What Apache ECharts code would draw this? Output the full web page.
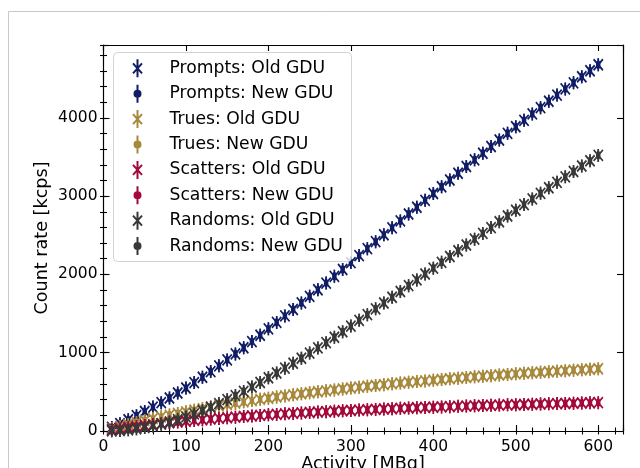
<!DOCTYPE html>
<html><head><meta charset="utf-8">
<script src="https://cdn.jsdelivr.net/npm/echarts@6/dist/echarts.min.js"></script>
<style>html,body{margin:0;padding:0;background:#fff}#c{width:640px;height:468px}</style>
</head><body><div id="c"></div>
<script>
const activity = [10,20,30,40,50,60,70,80,90,100,110,120,130,140,150,160,170,180,190,200,
  210,220,230,240,250,260,270,280,290,300,310,320,330,340,350,360,370,380,390,400,
  410,420,430,440,450,460,470,480,490,500,510,520,530,540,550,560,570,580,590,600];
const promptsOld = [46,94,144,196,249,305,362,422,485,550,618,687,759,832,908,985,1063,1142,1223,1305,
  1387,1470,1552,1636,1720,1804,1889,1975,2063,2151,2240,2329,2418,2506,2595,2683,2771,2858,2946,3033,
  3120,3206,3292,3378,3463,3548,3633,3717,3802,3886,3968,4050,4130,4211,4290,4369,4447,4524,4601,4677];
const promptsNew = [...promptsOld];
const truesOld = [29,57,83,109,134,158,181,203,224,245,265,284,303,321,339,356,372,388,404,419,
  434,448,462,475,488,501,513,525,537,549,560,571,581,592,602,612,622,631,640,649,
  658,667,675,684,692,700,707,715,722,730,737,744,751,757,764,770,777,783,789,795];
const truesNew = [...truesOld];
const scattersOld = [16,30,44,57,70,82,94,105,115,125,135,144,153,161,169,177,185,192,199,206,
  212,219,225,231,236,242,247,253,258,262,267,272,276,281,285,289,293,297,301,304,
  308,311,315,318,321,325,328,331,334,336,339,342,345,347,350,352,355,357,360,362];
const scattersNew = [...scattersOld];
const randomsOld = [2,7,16,29,45,65,88,115,146,180,218,259,303,350,400,452,506,562,620,680,
  741,803,866,930,995,1061,1128,1197,1268,1340,1413,1486,1560,1634,1708,1782,1856,1930,2005,2080,
  2154,2228,2302,2376,2450,2524,2598,2672,2746,2820,2892,2964,3035,3106,3176,3246,3315,3384,3452,3520];
const randomsNew = [...randomsOld];
const xTicks = [0,100,200,300,400,500,600];
const yTicks = [0,1000,2000,3000,4000];

const FONT = 'DejaVu Sans';
const C = {prompts:'#101d66', trues:'#a8893c', scatters:'#a3093a', randoms:'#383838'};
const oldSym = 'path://M0,1L11,12M11,1L0,12M5.5,0L5.5,13';
const newSym = 'path://M3.25,0L3.25,13M3.25,3.25A3.25,3.25 0 1 1 3.25,9.75A3.25,3.25 0 1 1 3.25,3.25Z';
const oldLeg = 'path://M0,4L9,14M9,4L0,14M4.5,0L4.5,18';
const newLeg = 'path://M3,0L3,18M3,6A3,3 0 1 1 3,12A3,3 0 1 1 3,6Z';

const defs = [
  ['Prompts: Old GDU', promptsOld, C.prompts, true],
  ['Prompts: New GDU', promptsNew, C.prompts, false],
  ['Trues: Old GDU', truesOld, C.trues, true],
  ['Trues: New GDU', truesNew, C.trues, false],
  ['Scatters: Old GDU', scattersOld, C.scatters, true],
  ['Scatters: New GDU', scattersNew, C.scatters, false],
  ['Randoms: Old GDU', randomsOld, C.randoms, true],
  ['Randoms: New GDU', randomsNew, C.randoms, false]
];
const series = defs.map(([name, vals, color, isOld], k) => ({
  type: 'scatter', name, xAxisIndex: 0, yAxisIndex: 0,
  data: activity.map((a, i) => [a, vals[i]]),
  symbol: isOld ? oldSym : newSym,
  symbolSize: isOld ? [11, 13] : [6.5, 13],
  symbolKeepAspect: true,
  itemStyle: {color: isOld ? 'rgba(0,0,0,0)' : color, borderColor: color, borderWidth: 1.8, opacity: 1},
  emphasis: {disabled: true}, silent: true, z: 2 + k * 0.01
}));

const axLine = {show: true, onZero: false, lineStyle: {color: '#000', width: 1.2}};
const tickStyle = {color: '#000', width: 1.1};
function xAx(pos, major, labels) {
  return {type: 'value', min: 0, max: 630, interval: major ? 100 : 20, position: pos,
    axisLine: major ? axLine : {show: false},
    axisTick: {show: true, inside: true, length: major ? 6 : 3.5, lineStyle: tickStyle},
    axisLabel: labels ? {show: true, margin: 8, fontSize: 15.5, color: '#000', fontFamily: FONT,
      formatter: v => xTicks.includes(v) ? String(v) : ''} : {show: false},
    splitLine: {show: false}};
}
function yAx(pos, major, labels) {
  return {type: 'value', min: 0, max: 4930, interval: major ? 1000 : 200, position: pos,
    axisLine: major ? axLine : {show: false},
    axisTick: {show: true, inside: true, length: major ? 6 : 3.5, lineStyle: tickStyle},
    axisLabel: labels ? {show: true, margin: 6, fontSize: 15.5, color: '#000', fontFamily: FONT,
      formatter: v => yTicks.includes(v) ? String(v) : ''} : {show: false},
    splitLine: {show: false}};
}

const chart = echarts.init(document.getElementById('c'), null, {renderer: 'canvas'});
chart.setOption({
  animation: false,
  backgroundColor: '#fff',
  grid: {left: 103.5, top: 45, right: 17, bottom: 37, containLabel: false},
  xAxis: [xAx('bottom', true, true), xAx('bottom', false, false), xAx('top', true, false), xAx('top', false, false)],
  yAxis: [yAx('left', true, true), yAx('left', false, false), yAx('right', true, false), yAx('right', false, false)],
  legend: {
    orient: 'vertical', left: 132, top: 58.3, padding: 0, itemGap: 5.4,
    itemWidth: 54, itemHeight: 18, selectedMode: false, z: 10,
    textStyle: {fontSize: 17.2, color: '#000', fontFamily: FONT},
    data: defs.map(d => ({name: d[0], icon: d[3] ? oldLeg : newLeg}))
  },
  graphic: [
    {type: 'line', shape: {x1: 8.5, y1: 11.5, x2: 640, y2: 11.5}, style: {stroke: '#c8c8c8', lineWidth: 1}, silent: true},
    {type: 'line', shape: {x1: 8.5, y1: 11.5, x2: 8.5, y2: 468}, style: {stroke: '#c8c8c8', lineWidth: 1}, silent: true},
    {type: 'rect', shape: {x: 113.5, y: 52.5, width: 238, height: 209, r: 4}, z: 5,
      style: {fill: 'rgba(255,255,255,0.8)', stroke: '#d3d3d3', lineWidth: 1}, silent: true},
    {type: 'text', x: 42, y: 238, rotation: Math.PI / 2, silent: true,
      style: {text: 'Count rate [kcps]', fontSize: 17.6, fontFamily: FONT, fill: '#000', align: 'center', verticalAlign: 'middle'}},
    {type: 'text', x: 363, y: 464, silent: true,
      style: {text: 'Activity [MBq]', fontSize: 17.6, fontFamily: FONT, fill: '#000', align: 'center', verticalAlign: 'middle'}}
  ],
  series
});
</script>
</body></html>
